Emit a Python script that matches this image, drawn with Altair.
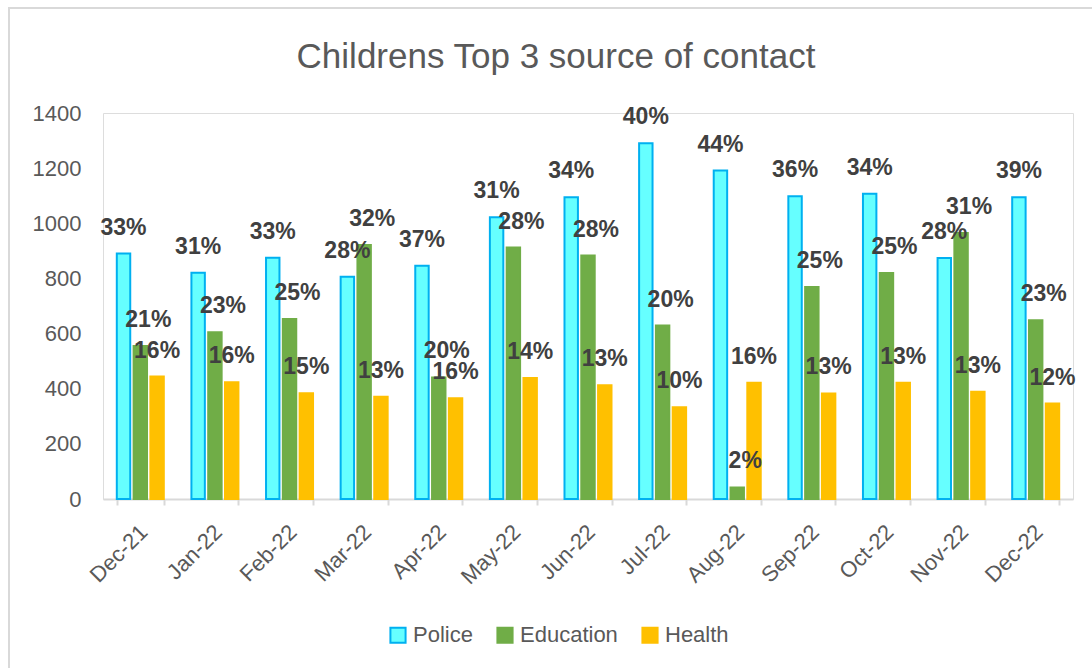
import altair as alt
import pandas as pd

months = ["Dec-21", "Jan-22", "Feb-22", "Mar-22", "Apr-22", "May-22", "Jun-22",
          "Jul-22", "Aug-22", "Sep-22", "Oct-22", "Nov-22", "Dec-22"]
series = ["Police", "Education", "Health"]

police = [890, 821, 875, 806, 846, 1022, 1094, 1290, 1191, 1098, 1107, 874, 1094]
education = [555, 605, 653, 921, 441, 912, 883, 629, 42, 769, 820, 965, 648]
health = [444, 423, 384, 371, 365, 439, 413, 333, 422, 383, 422, 389, 346]

police_pct = ["33%", "31%", "33%", "28%", "37%", "31%", "34%", "40%", "44%", "36%", "34%", "28%", "39%"]
education_pct = ["21%", "23%", "25%", "32%", "20%", "28%", "28%", "20%", "2%", "25%", "25%", "31%", "23%"]
health_pct = ["16%", "16%", "15%", "13%", "16%", "14%", "13%", "10%", "16%", "13%", "13%", "13%", "12%"]

fills = ["#66FFFF", "#70AD47", "#FFC000"]
strokes = ["#00B0F0", "#70AD47", "#FFC000"]

rows = []
for name, vals, pcts in [("Police", police, police_pct),
                         ("Education", education, education_pct),
                         ("Health", health, health_pct)]:
    for m, v, p in zip(months, vals, pcts):
        rows.append({"month": m, "series": name, "value": v, "pct": p})
df = pd.DataFrame(rows)

FONT = "Liberation Sans"

x_enc = alt.X("month:N", sort=months,
              scale=alt.Scale(paddingInner=0.37, paddingOuter=0.185),
              axis=alt.Axis(title=None, labelAngle=-45, labelFontSize=22, labelFont=FONT,
                            labelColor="#595959", domainColor="#D9D9D9", domainWidth=2,
                            tickColor="#D9D9D9", tickWidth=2, tickSize=6, tickBand="extent",
                            labelPadding=16, labelOffset=-4))
xo_enc = alt.XOffset("series:N", sort=series, scale=alt.Scale(paddingInner=0.2))
y_enc = alt.Y("value:Q", scale=alt.Scale(domain=[0, 1400]),
              axis=alt.Axis(title=None, values=[0, 200, 400, 600, 800, 1000, 1200, 1400],
                            format="d", grid=False, domain=False, ticks=False, labelFontSize=22,
                            labelFont=FONT, labelColor="#595959", labelPadding=22))

base = alt.Chart(df)

legend_opts = dict(title=None, orient="none", direction="horizontal",
                   legendX=284, legendY=511, symbolType="square",
                   symbolSize=230, symbolStrokeWidth=2, labelFontSize=22,
                   labelFont=FONT, labelColor="#595959", columnPadding=20,
                   labelOffset=4, padding=0)

bars = base.mark_bar(strokeWidth=2).encode(
    x=x_enc,
    xOffset=xo_enc,
    y=y_enc,
    fill=alt.Fill("series:N", sort=series,
                  scale=alt.Scale(domain=series, range=fills),
                  legend=alt.Legend(**legend_opts)),
    stroke=alt.Stroke("series:N", sort=series,
                      scale=alt.Scale(domain=series, range=strokes),
                      legend=alt.Legend(**legend_opts)),
)

text_common = dict(fontSize=23, font=FONT, fontWeight="bold", color="#404040",
                   baseline="middle", align="center", dy=-26)

labels_ph = base.transform_filter(alt.datum.series != "Education").mark_text(**text_common).encode(
    x=x_enc, xOffset=xo_enc, y=y_enc, text="pct:N")
labels_e = base.transform_filter(alt.datum.series == "Education").mark_text(dx=8, **text_common).encode(
    x=x_enc, xOffset=xo_enc, y=y_enc, text="pct:N")

frame = alt.Chart(pd.DataFrame({"a": [0]})).mark_rect(
    fill=None, stroke="#D9D9D9", strokeWidth=2).encode(
    x=alt.value(-94), x2=alt.value(1000), y=alt.value(-105), y2=alt.value(570))

chart = alt.layer(frame, bars, labels_ph, labels_e).properties(
    width=970, height=386,
    title=alt.TitleParams("Childrens Top 3 source of contact", fontSize=35, font=FONT,
                          color="#595959", fontWeight="normal", anchor="middle",
                          frame="group", dx=-32, offset=-96, baseline="alphabetic"),
    autosize=alt.AutoSizeParams(type="none"),
    padding={"left": 103, "top": 113, "right": 19, "bottom": 169},
).configure_view(stroke=None).configure(background="white")

chart.save("out.html", embed_options={"renderer": "svg", "actions": False})
